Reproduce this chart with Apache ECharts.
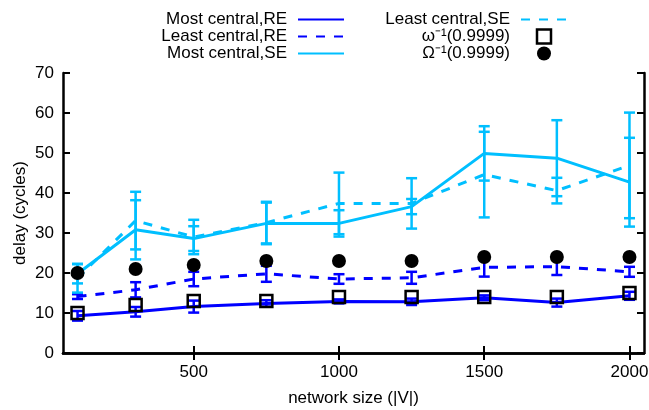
<!DOCTYPE html>
<html>
<head>
<meta charset="utf-8">
<script src="https://cdn.jsdelivr.net/npm/echarts@6/dist/echarts.min.js"></script>
<style>
html, body { margin: 0; padding: 0; background: #fff; }
#container { width: 649px; height: 410px; }
</style>
</head>
<body>
<div id="container"></div>
<script>
// network sizes (x)
var sizes = [100, 300, 500, 750, 1000, 1250, 1500, 1750, 2000];
var xTicks = [500, 1000, 1500, 2000];

// delay values, with half-width of the error bars
var mostRE      = [9.3, 10.3, 11.6, 12.4, 12.9, 12.8, 13.8, 12.6, 14.3];
var mostREErr   = [1.2, 1.2, 1.5, 0.8, 0.5, 0.8, 0.6, 1.0, 1.0];
var leastRE     = [14.1, 15.8, 18.5, 19.8, 18.5, 18.8, 21.4, 21.6, 20.3];
var leastREErr  = [0.6, 1.9, 1.8, 2.0, 1.2, 1.5, 2.3, 2.1, 1.25];
var mostSE      = [19.8, 30.8, 28.6, 32.4, 32.4, 36.6, 49.9, 48.7, 42.7];
var mostSEErr   = [2.4, 7.4, 3.1, 5.2, 3.3, 1.9, 6.8, 9.5, 11.1];
var leastSE     = [18.7, 33.1, 29.0, 32.6, 37.4, 37.4, 44.6, 40.6, 46.9];
var leastSEErr  = [3.6, 7.2, 4.3, 5.2, 7.7, 6.3, 10.7, 3.2, 13.2];
var omegaLow    = [10, 12, 13, 13, 14, 14, 14, 14, 15];
var omegaHigh   = [20, 21, 22, 23, 23, 23, 24, 24, 24];

var BLUE = '#0000ff';
var SKY = '#00bfff';
var FONT = 'Liberation Sans';
var SQUARE = 'path://M0,0H10V10H0Z';

var dom = document.getElementById('container');
var myChart = echarts.init(dom, null, { renderer: 'canvas' });

function pairs(ys) {
    return sizes.map(function (x, i) { return [x, ys[i]]; });
}

function bars(ys, errs) {
    return sizes.map(function (x, i) { return [x, ys[i] - errs[i], ys[i] + errs[i]]; });
}

function errorBars(color) {
    return function (params, api) {
        var x = api.value(0);
        var lo = api.coord([x, api.value(1)]);
        var hi = api.coord([x, api.value(2)]);
        var hw = 5.5;
        var style = { stroke: color, lineWidth: 2.5, fill: null };
        return {
            type: 'group',
            children: [
                { type: 'line', shape: { x1: lo[0], y1: lo[1], x2: hi[0], y2: hi[1] }, style: style },
                { type: 'line', shape: { x1: lo[0] - hw, y1: lo[1], x2: lo[0] + hw, y2: lo[1] }, style: style },
                { type: 'line', shape: { x1: hi[0] - hw, y1: hi[1], x2: hi[0] + hw, y2: hi[1] }, style: style }
            ]
        };
    };
}

function lineSeries(name, ys, color, dashed) {
    return {
        name: name,
        type: 'line',
        data: pairs(ys),
        symbol: 'none',
        lineStyle: { color: color, width: 3, type: dashed ? [9, 9] : 'solid' },
        itemStyle: { color: color },
        z: 3
    };
}

function errSeries(id, ys, errs, color) {
    return {
        name: id,
        type: 'custom',
        data: bars(ys, errs),
        encode: { x: 0, y: [1, 2] },
        renderItem: errorBars(color),
        z: 3
    };
}

// legend entry for a line: hide the marker that echarts adds in the middle
function lineKey(name) {
    return { name: name, itemStyle: { opacity: 0 } };
}

var axisLine = { show: true, lineStyle: { color: '#000', width: 2.5 } };
var tickStyle = { color: '#000', width: 2 };
var keyText = { fontFamily: FONT, fontSize: 17, lineHeight: 17, color: '#000', padding: [0, 6, 0, 0] };

option = {
    animation: false,
    backgroundColor: '#fff',
    textStyle: { fontFamily: FONT, color: '#000' },
    grid: { left: 63, right: 5, top: 73, bottom: 57, outerBoundsMode: 'none', containLabel: false },
    legend: [{
        orient: 'vertical', align: 'right', right: 304, top: 11,
        padding: 0, itemGap: 0, itemWidth: 46, itemHeight: 14,
        selectedMode: false,
        textStyle: keyText,
        data: [lineKey('Most central,RE'), lineKey('Least central,RE'), lineKey('Most central,SE')]
    }, {
        orient: 'vertical', align: 'right', right: 81, top: 11,
        padding: 0, itemGap: 0, itemWidth: 46, itemHeight: 14,
        selectedMode: false,
        textStyle: keyText,
        data: [
            lineKey('Least central,SE'),
            { name: 'ω⁻¹(0.9999)', icon: SQUARE,
              itemStyle: { color: 'rgba(0,0,0,0)', borderColor: '#000', borderWidth: 2.5, opacity: 1 } },
            { name: 'Ω⁻¹(0.9999)', icon: 'circle', itemStyle: { color: '#000', opacity: 1 } }
        ]
    }],
    xAxis: [{
        type: 'value', min: 50, max: 2050, position: 'bottom',
        name: 'network size (|V|)', nameLocation: 'middle', nameGap: 37, nameMoveOverlap: false,
        nameTextStyle: { fontFamily: FONT, fontSize: 17, color: '#000' },
        axisLine: axisLine,
        axisTick: { show: true, inside: true, length: 7, lineStyle: tickStyle, customValues: xTicks },
        axisLabel: {
            show: true, margin: 11, fontSize: 17, color: '#000', fontFamily: FONT,
            customValues: xTicks,
            formatter: function (v) { return String(v); }
        },
        splitLine: { show: false }
    }, {
        type: 'value', min: 50, max: 2050, position: 'top',
        axisLine: axisLine,
        axisTick: { show: true, inside: true, length: 7, lineStyle: tickStyle, customValues: xTicks },
        axisLabel: { show: false },
        splitLine: { show: false }
    }],
    yAxis: [{
        type: 'value', min: 0, max: 70, interval: 10, position: 'left',
        name: 'delay (cycles)', nameLocation: 'middle', nameGap: 34, nameRotate: 90, nameMoveOverlap: false,
        nameTextStyle: { fontFamily: FONT, fontSize: 17, color: '#000' },
        axisLine: axisLine,
        axisTick: { show: true, inside: true, length: 7, lineStyle: tickStyle },
        axisLabel: { show: true, margin: 9, fontSize: 17, color: '#000', fontFamily: FONT },
        splitLine: { show: false }
    }, {
        type: 'value', min: 0, max: 70, interval: 10, position: 'right',
        axisLine: axisLine,
        axisTick: { show: true, inside: true, length: 7, lineStyle: tickStyle },
        axisLabel: { show: false },
        splitLine: { show: false }
    }],
    series: [
        lineSeries('Most central,RE', mostRE, BLUE, false),
        errSeries('err-most-re', mostRE, mostREErr, BLUE),
        lineSeries('Least central,RE', leastRE, BLUE, true),
        errSeries('err-least-re', leastRE, leastREErr, BLUE),
        lineSeries('Most central,SE', mostSE, SKY, false),
        errSeries('err-most-se', mostSE, mostSEErr, SKY),
        lineSeries('Least central,SE', leastSE, SKY, true),
        errSeries('err-least-se', leastSE, leastSEErr, SKY),
        {
            name: 'ω⁻¹(0.9999)',
            type: 'scatter',
            data: pairs(omegaLow),
            symbol: SQUARE,
            symbolSize: 12,
            itemStyle: { color: 'rgba(0,0,0,0)', borderColor: '#000', borderWidth: 2.5, opacity: 1 },
            z: 4
        },
        {
            name: 'Ω⁻¹(0.9999)',
            type: 'scatter',
            data: pairs(omegaHigh),
            symbol: 'circle',
            symbolSize: 14,
            itemStyle: { color: '#000', opacity: 1 },
            z: 5
        }
    ]
};

if (option && typeof option === 'object') {
    myChart.setOption(option, true);
}
</script>
</body>
</html>
